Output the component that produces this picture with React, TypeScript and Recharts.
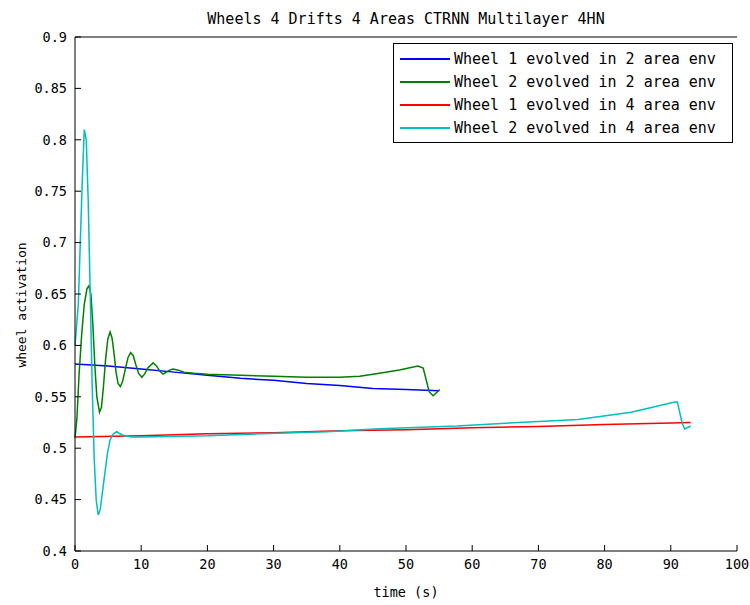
import { LineChart, Line, XAxis, YAxis, Legend, Label } from 'recharts'

// time stamps (s) and wheel activations
const w1Area2T = [0, 5, 10, 15, 20, 25, 30, 35, 40, 45, 50, 55]
const w1Area2V = [0.582, 0.58, 0.577, 0.574, 0.571, 0.568, 0.566, 0.563, 0.561, 0.558, 0.557, 0.556]

const w2Area2T = [0, 0.3, 0.6, 1, 1.4, 1.8, 2.1, 2.4, 2.7, 3, 3.3, 3.7, 4, 4.3, 4.6, 4.95, 5.3, 5.6, 5.9, 6.2, 6.5, 6.85, 7.2, 7.6, 8, 8.4, 8.8, 9.2, 9.6, 10.1, 10.5, 11, 11.8, 12.3, 12.8, 13.3, 13.8, 14.3, 14.8, 15.5, 16.5, 18, 20, 25, 30, 35, 40, 43, 46, 49, 51.8, 52.6, 53.5, 54.1, 55.1]
const w2Area2V = [0.51, 0.53, 0.57, 0.61, 0.64, 0.655, 0.658, 0.65, 0.62, 0.58, 0.55, 0.535, 0.54, 0.56, 0.585, 0.606, 0.613, 0.607, 0.592, 0.574, 0.563, 0.56, 0.565, 0.577, 0.588, 0.593, 0.59, 0.581, 0.573, 0.569, 0.572, 0.578, 0.583, 0.58, 0.575, 0.572, 0.574, 0.576, 0.577, 0.576, 0.574, 0.573, 0.572, 0.571, 0.57, 0.569, 0.569, 0.57, 0.573, 0.576, 0.58, 0.578, 0.555, 0.551, 0.557]

const w1Area4T = [0, 10, 20, 30, 40, 50, 60, 70, 80, 90, 93]
const w1Area4V = [0.511, 0.512, 0.514, 0.515, 0.517, 0.518, 0.52, 0.521, 0.523, 0.5245, 0.525]

const w2Area4T = [0, 0.5, 0.8, 1.1, 1.4, 1.7, 2, 2.3, 2.6, 2.9, 3.2, 3.5, 3.8, 4.1, 4.5, 4.9, 5.3, 5.8, 6.3, 6.8, 7.5, 8.5, 10, 20, 28, 38, 46, 57.7, 67, 76, 84, 90.6, 91, 91.7, 92.1, 93]
const w2Area4V = [0.6, 0.64, 0.7, 0.76, 0.81, 0.8, 0.74, 0.65, 0.56, 0.49, 0.45, 0.435, 0.44, 0.455, 0.475, 0.495, 0.508, 0.514, 0.516, 0.514, 0.512, 0.511, 0.511, 0.512, 0.514, 0.516, 0.519, 0.5216, 0.525, 0.528, 0.535, 0.545, 0.545, 0.5245, 0.5187, 0.5216]

const xTicks = [0, 10, 20, 30, 40, 50, 60, 70, 80, 90, 100]
const yTicks = [0.4, 0.45, 0.5, 0.55, 0.6, 0.65, 0.7, 0.75, 0.8, 0.85, 0.9]

const toRows = (t: number[], v: number[]) => t.map((x, i) => ({ t: x, v: v[i] }))

const series = [
  { name: 'Wheel 1 evolved in 2 area env', color: '#0000ff', data: toRows(w1Area2T, w1Area2V) },
  { name: 'Wheel 2 evolved in 2 area env', color: '#008000', data: toRows(w2Area2T, w2Area2V) },
  { name: 'Wheel 1 evolved in 4 area env', color: '#ff0000', data: toRows(w1Area4T, w1Area4V) },
  { name: 'Wheel 2 evolved in 4 area env', color: '#00bfbf', data: toRows(w2Area4T, w2Area4V) },
]

const font = '"DejaVu Sans Mono", monospace'
const TICK = 6
const GAP = 8

// matlab style: tick marks point into the plot box
function BottomTick({ x, y, payload }: any) {
  const axisY = y - GAP
  return (
    <g>
      <line x1={x} x2={x} y1={axisY} y2={axisY - TICK} stroke="#000" />
      <text x={x} y={y} dy="0.75em" textAnchor="middle" fill="#000" fontSize={13.5} fontFamily={font}>
        {payload.value}
      </text>
    </g>
  )
}

function LeftTick({ x, y, payload }: any) {
  const axisX = x + GAP
  return (
    <g>
      <line x1={axisX} x2={axisX + TICK} y1={y} y2={y} stroke="#000" />
      <text x={x} y={y} dy="0.35em" textAnchor="end" fill="#000" fontSize={13.5} fontFamily={font}>
        {String(+Number(payload.value).toFixed(2))}
      </text>
    </g>
  )
}

function TopTick({ x, y }: any) {
  return <line x1={x} x2={x} y1={y} y2={y + TICK} stroke="#000" />
}

function RightTick({ x, y }: any) {
  return <line x1={x} x2={x - TICK} y1={y} y2={y} stroke="#000" />
}

function YTitle({ viewBox }: any) {
  const cx = viewBox.x + 21
  const cy = viewBox.y + viewBox.height / 2 + 11
  return (
    <text
      x={cx}
      y={cy}
      transform={`rotate(-90, ${cx}, ${cy})`}
      textAnchor="middle"
      dominantBaseline="central"
      fill="#000"
      fontSize={13}
      fontFamily={font}
    >
      wheel activation
    </text>
  )
}

function LegendBox() {
  return (
    <div
      style={{
        border: '1px solid #000',
        background: '#fff',
        padding: '3px 8px 3px 6px',
        fontFamily: font,
        fontSize: 15,
        color: '#000',
      }}
    >
      {series.map((s) => (
        <div key={s.name} style={{ display: 'flex', alignItems: 'center', height: 23 }}>
          <span style={{ display: 'inline-block', width: 50, height: 2, background: s.color, marginRight: 4 }} />
          <span>{s.name}</span>
        </div>
      ))}
    </div>
  )
}

export default function App() {
  return (
    <div style={{ position: 'absolute', left: 0, top: 0, width: 750, height: 605, background: '#fff' }}>
      <div
        style={{
          position: 'absolute',
          left: 75,
          width: 662,
          top: 10,
          textAlign: 'center',
          fontFamily: font,
          fontSize: 15,
          color: '#000',
        }}
      >
        Wheels 4 Drifts 4 Areas CTRNN Multilayer 4HN
      </div>
      <LineChart width={750} height={605} margin={{ top: 37, right: 13, left: 0, bottom: 0 }}>
        <XAxis
          dataKey="t"
          type="number"
          domain={[0, 100]}
          ticks={xTicks}
          allowDuplicatedCategory={false}
          height={54}
          tickSize={0}
          tickMargin={GAP}
          tickLine={false}
          stroke="#000"
          tick={<BottomTick />}
          label={{ value: 'time (s)', position: 'insideBottom', offset: 8, fill: '#000', fontSize: 13.5, fontFamily: font }}
        />
        <XAxis
          xAxisId="top"
          orientation="top"
          type="number"
          domain={[0, 100]}
          ticks={xTicks}
          mirror
          tickSize={0}
          tickMargin={0}
          tickLine={false}
          tick={<TopTick />}
          stroke="#000"
        />
        <YAxis
          type="number"
          domain={[0.4, 0.9]}
          ticks={yTicks}
          width={75}
          tickSize={0}
          tickMargin={GAP}
          tickLine={false}
          stroke="#000"
          tick={<LeftTick />}
        >
          <Label content={<YTitle />} />
        </YAxis>
        <YAxis
          yAxisId="right"
          orientation="right"
          type="number"
          domain={[0.4, 0.9]}
          ticks={yTicks}
          mirror
          width={0}
          tickSize={0}
          tickMargin={0}
          tickLine={false}
          tick={<RightTick />}
          stroke="#000"
        />
        <Legend
          layout="vertical"
          align="center"
          verticalAlign="middle"
          wrapperStyle={{ left: 393, top: 43, width: 340 }}
          content={() => <LegendBox />}
        />
        {series.map((s) => (
          <Line
            key={s.name}
            data={s.data}
            dataKey="v"
            name={s.name}
            type="linear"
            stroke={s.color}
            strokeWidth={1.5}
            dot={false}
            activeDot={false}
            isAnimationActive={false}
          />
        ))}
      </LineChart>
    </div>
  )
}
